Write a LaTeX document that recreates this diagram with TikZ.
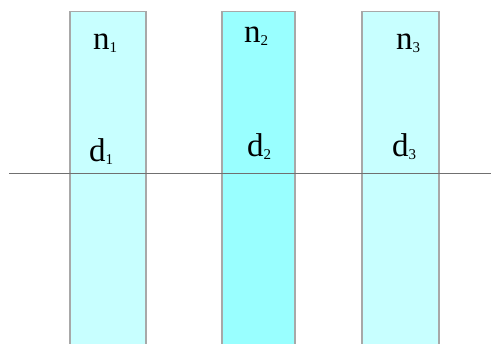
\documentclass[tikz,border=0pt]{standalone}
\usepackage{fontspec}
\setmainfont{Liberation Serif}
\definecolor{lightstrip}{HTML}{C8FFFF}
\definecolor{darkstrip}{HTML}{99FFFF}
\definecolor{stripedge}{HTML}{A8A8A8}
\definecolor{axisline}{HTML}{707070}
\newcommand{\lbl}[2]{#1\raisebox{-2.5pt}{\fontsize{15}{15}\selectfont #2}}
\begin{document}
\begin{tikzpicture}[x=1pt,y=-1pt,
  strip/.style={draw=stripedge,line width=1.2pt},
  lab/.style={anchor=base west,inner sep=0pt,font=\fontsize{33}{33}\selectfont}]
\useasboundingbox (0,0) rectangle (491,344);
\fill[white] (0,0) rectangle (491,344);
\draw[strip,fill=lightstrip] (70,11.5) rectangle (146,345);
\draw[strip,fill=darkstrip] (222,11.5) rectangle (295,345);
\draw[strip,fill=lightstrip] (362,11.5) rectangle (439,345);
\coordinate (L) at (9,174);
\coordinate (R) at (491,174);
\draw[axisline,line width=1pt] (L) -- (R);
\node[lab] (n1) at (93,50) {\lbl{n}{1}};
\node[lab] (n2) at (244,43) {\lbl{n}{2}};
\node[lab] (n3) at (396,50) {\lbl{n}{3}};
\node[lab] (d1) at (89,162) {\lbl{d}{1}};
\node[lab] (d2) at (247,157) {\lbl{d}{2}};
\node[lab] (d3) at (392,157) {\lbl{d}{3}};
\end{tikzpicture}
\end{document}
